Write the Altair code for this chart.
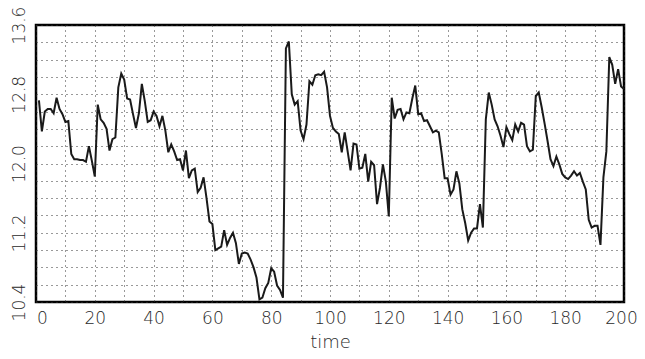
import altair as alt
import pandas as pd

t_vals = list(range(1, 201))
y_vals = [
    12.73, 12.37, 12.60, 12.63, 12.63, 12.58, 12.76, 12.63, 12.57, 12.48,
    12.49, 12.11, 12.05, 12.05, 12.04, 12.04, 12.02, 12.20, 12.03, 11.85,
    12.68, 12.51, 12.47, 12.40, 12.15, 12.28, 12.30, 12.88, 13.04, 12.97,
    12.75, 12.74, 12.57, 12.41, 12.58, 12.92, 12.72, 12.48, 12.50, 12.60,
    12.55, 12.43, 12.55, 12.38, 12.13, 12.22, 12.14, 12.04, 12.05, 11.92,
    12.15, 11.83, 11.92, 11.94, 11.67, 11.72, 11.84, 11.60, 11.33, 11.30,
    11.00, 11.02, 11.04, 11.23, 11.06, 11.14, 11.20, 11.08, 10.84, 10.96,
    10.97, 10.96, 10.89, 10.80, 10.68, 10.43, 10.45, 10.56, 10.62, 10.79,
    10.75, 10.59, 10.54, 10.45, 13.33, 13.41, 12.80, 12.68, 12.72, 12.38,
    12.28, 12.45, 12.95, 12.91, 13.02, 13.03, 13.02, 13.06, 12.88, 12.55,
    12.41, 12.37, 12.34, 12.13, 12.36, 12.14, 11.92, 12.23, 12.22, 11.94,
    11.95, 12.11, 11.79, 12.02, 11.98, 11.53, 11.72, 11.99, 11.79, 11.39,
    12.76, 12.52, 12.62, 12.63, 12.51, 12.59, 12.58, 12.75, 12.90, 12.57,
    12.58, 12.49, 12.50, 12.43, 12.36, 12.38, 12.36, 12.11, 11.83, 11.83,
    11.64, 11.70, 11.91, 11.77, 11.47, 11.31, 11.11, 11.20, 11.25, 11.25,
    11.53, 11.26, 12.51, 12.82, 12.68, 12.51, 12.43, 12.32, 12.19, 12.42,
    12.34, 12.27, 12.45, 12.37, 12.47, 12.45, 12.20, 12.14, 12.16, 12.78,
    12.82, 12.65, 12.46, 12.26, 12.05, 11.97, 12.08, 11.99, 11.88, 11.84,
    11.82, 11.86, 11.91, 11.86, 11.89, 11.79, 11.70, 11.35, 11.26, 11.28,
    11.28, 11.06, 11.84, 12.14, 13.23, 13.14, 12.92, 13.09, 12.89, 12.86,
]

x_ticks = list(range(0, 201, 10))
y_ticks = [round(10.4 + 0.2 * i, 1) for i in range(17)]
y_labels = ["10.4", "11.2", "12.0", "12.8", "13.6"]

df = pd.DataFrame({"time": t_vals, "value": y_vals})

FONT = "DejaVu Sans"

x_label_expr = "datum.value % 20 == 0 ? datum.label : ''"
y_label_expr = (
    "indexof(" + str(y_labels) + ", format(datum.value, '.1f')) >= 0 ? format(datum.value, '.1f') : ''"
)

chart = (
    alt.Chart(df)
    .mark_line(color="#1a1a1a", strokeWidth=2)
    .encode(
        x=alt.X(
            "time:Q",
            scale=alt.Scale(domain=[0, 200], nice=False, zero=False),
            axis=alt.Axis(
                values=x_ticks,
                labelExpr=x_label_expr,
                title="time",
                grid=True,
                ticks=False,
                domain=False,
                labelFlush=False,
                labelPadding=8,
                labelOffset={
                    "condition": [
                        {"test": "datum.value == 0", "value": 6},
                        {"test": "datum.value == 200", "value": -3},
                    ],
                    "value": 0,
                },
                titlePadding=7,
            ),
        ),
        y=alt.Y(
            "value:Q",
            scale=alt.Scale(domain=[10.4, 13.6], nice=False, zero=False),
            axis=alt.Axis(
                values=y_ticks,
                labelExpr=y_label_expr,
                title=None,
                grid=True,
                ticks=False,
                domain=False,
                labelAngle=270,
                labelAlign="center",
                labelBaseline="bottom",
                labelPadding=8,
            ),
        ),
    )
    .properties(
        width=588,
        height=277,
        autosize=alt.AutoSizeParams(type="none"),
        padding={"left": 28, "top": 17, "right": 13, "bottom": 48},
    )
    .configure_view(stroke="black", strokeWidth=2.5)
    .configure_axis(
        labelFont=FONT,
        labelFontSize=17,
        labelFontWeight=300,
        labelColor="#2a2a2a",
        titleFont=FONT,
        titleFontSize=18,
        titleFontWeight=300,
        titleColor="#2a2a2a",
        gridColor="#333",
        gridOpacity=1,
        gridWidth=1,
        gridDash=[1, 4],
    )
)

chart.save("out.html", embed_options={"renderer": "svg", "actions": False})
